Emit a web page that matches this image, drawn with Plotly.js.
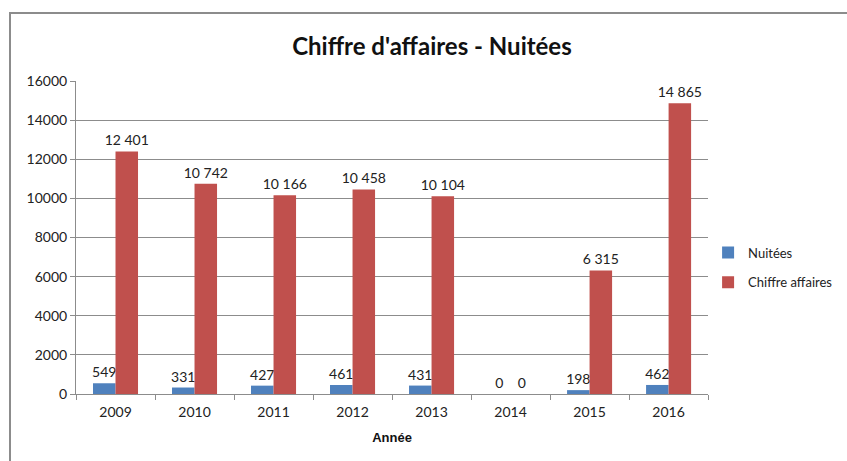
<!DOCTYPE html>
<html>
<head>
<meta charset="utf-8">
<script src="https://cdn.plot.ly/plotly-3.0.1.min.js"></script>
<style>
  html, body { margin: 0; padding: 0; background: #fff; overflow: hidden; }
  #frame { position: absolute; left: 9px; top: 12px; width: 900px; height: 520px; border: 2px solid #8c8c8c; }
  #chart { position: absolute; left: 0; top: 0; width: 847px; height: 461px; }
</style>
</head>
<body>
<div id="frame"></div>
<div id="chart"></div>
<script>
const years = ['2009', '2010', '2011', '2012', '2013', '2014', '2015', '2016'];
const nuitees = [549, 331, 427, 461, 431, 0, 198, 462];
const chiffreAffaires = [12401, 10742, 10166, 10458, 10104, 0, 6315, 14865];

const font = 'Lato, "Open Sans", sans-serif';

const traces = [
  {
    x: years,
    y: nuitees,
    type: 'bar',
    name: 'Nuitées',
    legendgroup: 'a',
    marker: { color: '#4F81BD' },
    texttemplate: '%{y:,d}',
    textposition: 'outside',
    constraintext: 'none',
    cliponaxis: false,
    textfont: { family: font, size: 14, color: '#222' },
    hoverinfo: 'x+y'
  },
  {
    x: years,
    y: chiffreAffaires,
    type: 'bar',
    name: 'Chiffre affaires',
    legendgroup: 'b',
    marker: { color: '#C0504D' },
    texttemplate: '%{y:,d}',
    textposition: 'outside',
    constraintext: 'none',
    cliponaxis: false,
    textfont: { family: font, size: 14, color: '#222' },
    hoverinfo: 'x+y'
  }
];

const layout = {
  width: 847,
  height: 461,
  margin: { l: 76, r: 137, t: 81, b: 67 },
  paper_bgcolor: 'rgba(0,0,0,0)',
  plot_bgcolor: 'rgba(0,0,0,0)',
  separators: ', ',
  font: { family: font, size: 14, color: '#222' },
  title: {
    text: "<b>Chiffre d'affaires - Nuitées</b>",
    font: { family: font, size: 24, color: '#111' },
    x: 0.51,
    xanchor: 'center',
    y: 0.9,
    yanchor: 'middle'
  },
  barmode: 'group',
  bargap: 0.43,
  bargroupgap: 0,
  showlegend: true,
  legend: {
    xref: 'container',
    x: 0.836,
    xanchor: 'left',
    yref: 'paper',
    y: 0.5,
    yanchor: 'top',
    tracegroupgap: 10,
    font: { family: font, size: 13, color: '#222' }
  },
  xaxis: {
    type: 'category',
    title: { text: '<b>Année</b>', font: { family: 'Liberation Sans, Arial, sans-serif', size: 13, color: '#111' }, standoff: 14 },
    showline: true,
    linecolor: '#8c8c8c',
    linewidth: 1,
    ticks: 'outside',
    tickson: 'boundaries',
    ticklen: 5,
    tickcolor: '#8c8c8c',
    ticklabelstandoff: 5,
    showgrid: false,
    tickfont: { family: font, size: 14, color: '#222' }
  },
  yaxis: {
    range: [0, 16000],
    dtick: 2000,
    tickformat: 'd',
    showline: true,
    linecolor: '#8c8c8c',
    linewidth: 1,
    ticks: 'outside',
    ticklen: 5,
    tickcolor: '#8c8c8c',
    showgrid: true,
    gridcolor: '#8c8c8c',
    gridwidth: 1,
    zeroline: false,
    tickfont: { family: font, size: 14, color: '#222' }
  }
};

Plotly.newPlot('chart', traces, layout, { displayModeBar: false, staticPlot: true });
</script>
</body>
</html>
